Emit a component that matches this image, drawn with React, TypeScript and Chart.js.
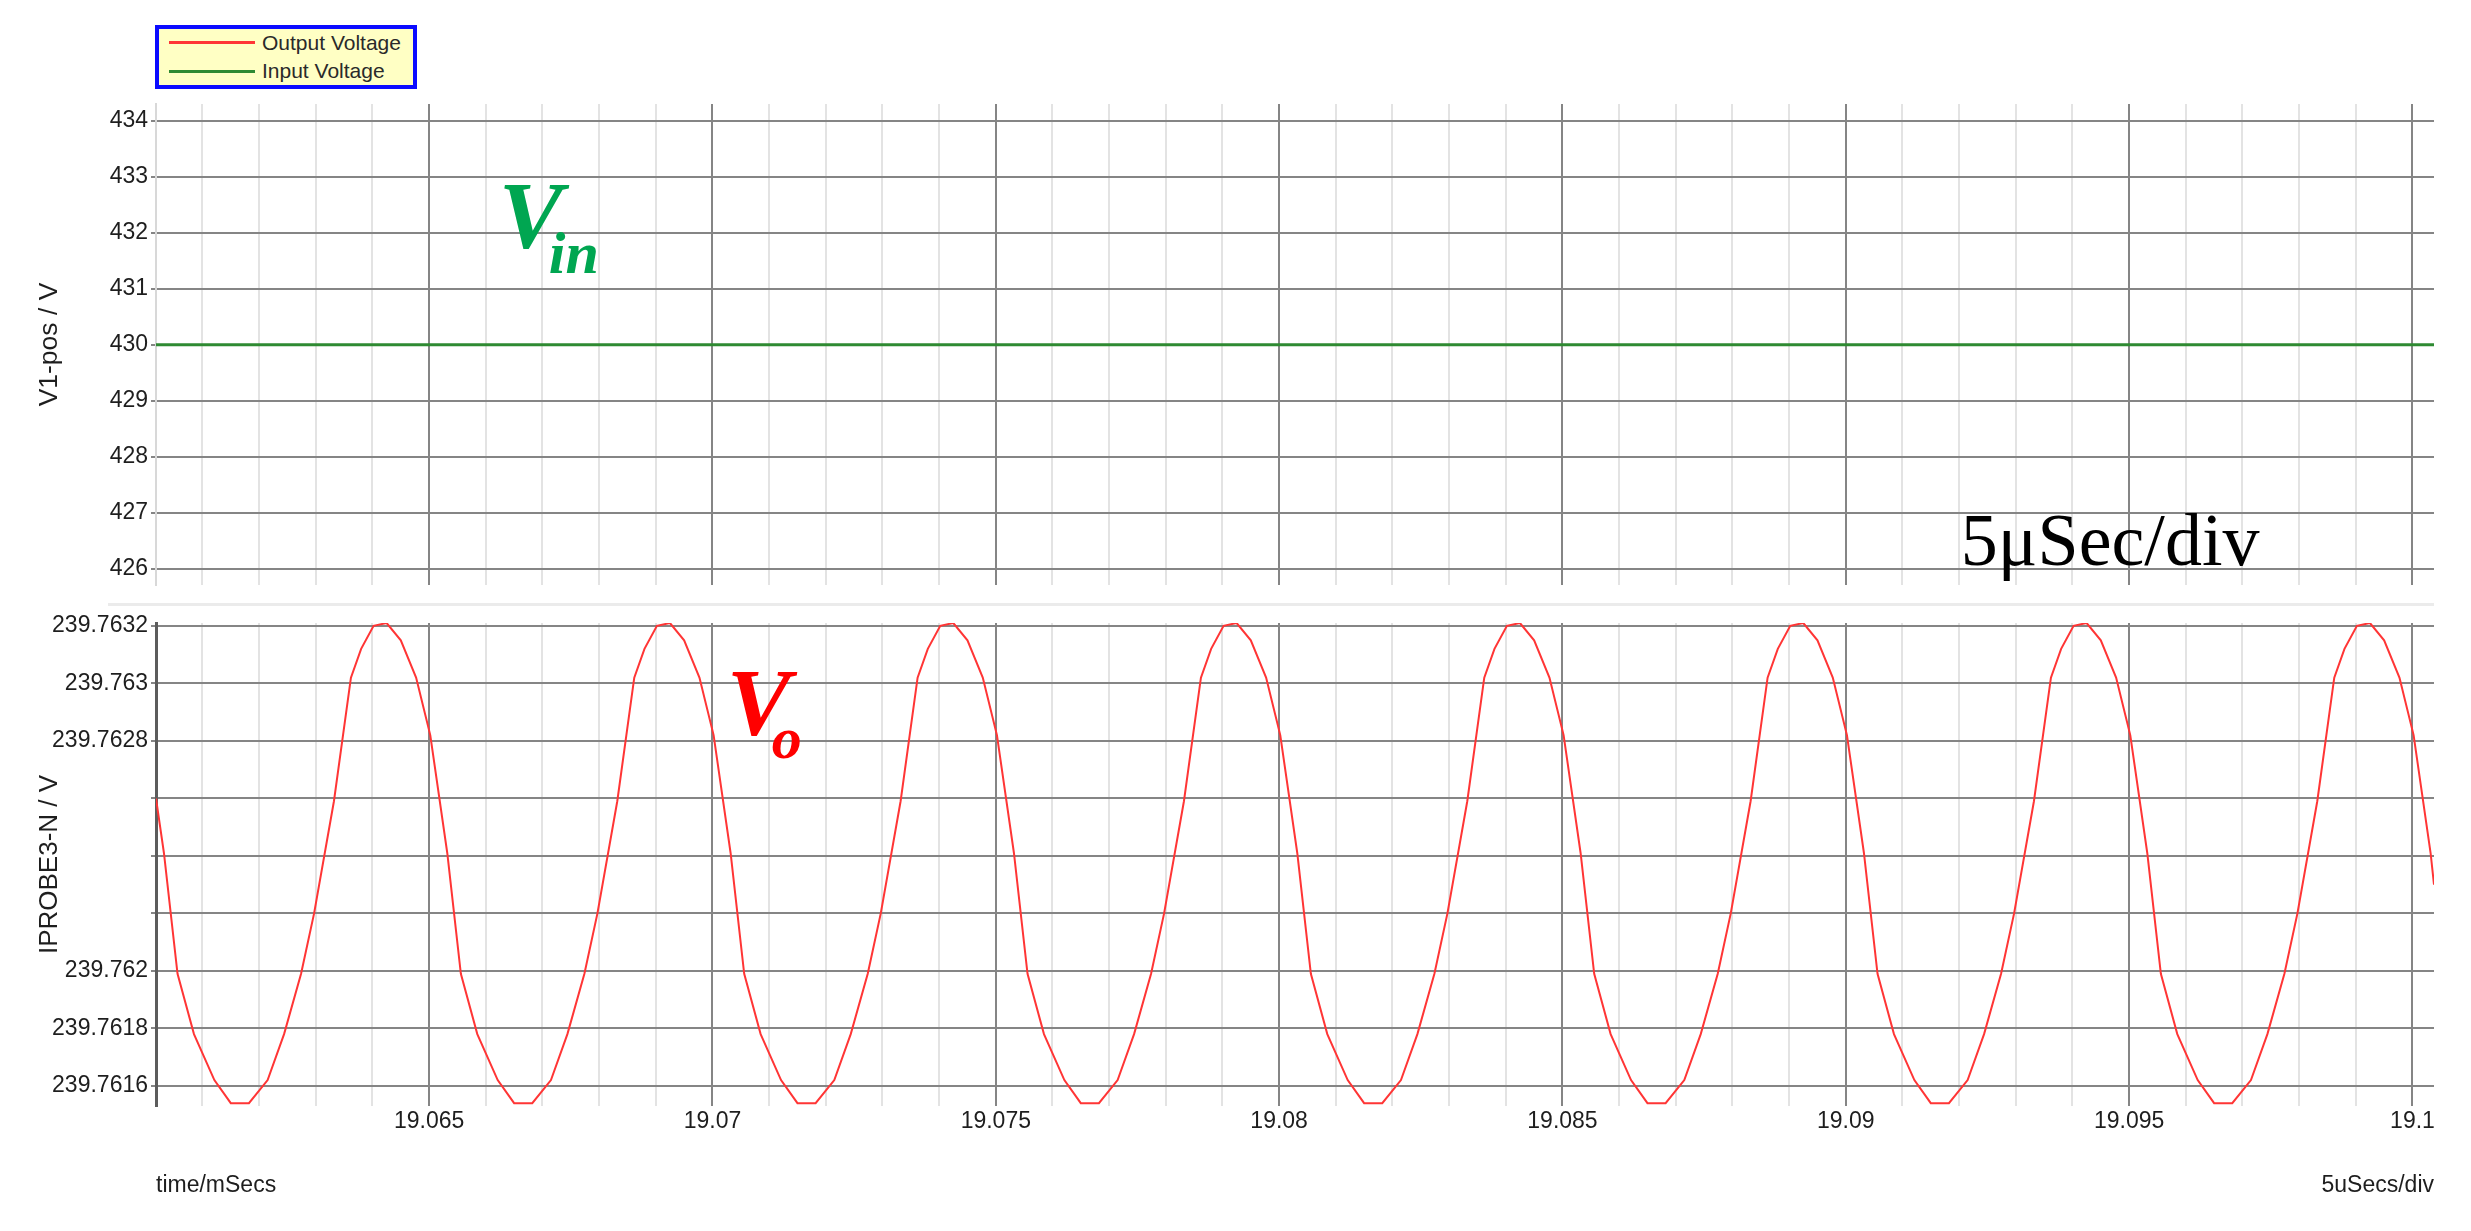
import React, { useEffect, useRef } from "react";
import { Chart, registerables } from "chart.js";

Chart.register(...registerables);

// ---------------- data ----------------
const seriesNames = ["Output Voltage", "Input Voltage"];
const seriesColors = ["#ff3535", "#2e8a32"];

const timeMin = 19.06018;
const timeMax = 19.10038;

const inputTime = [19.06018, 19.10038];
const inputVoltage = [430, 430];

const outputTime = [
  19.06018, 19.06032, 19.06056, 19.06085, 19.06121, 19.0615,
  19.06182, 19.06215, 19.06244, 19.06274, 19.06297, 19.06332, 19.06362, 19.0638, 19.06402, 19.06425, 19.0645, 19.06477, 19.06502, 19.06532, 19.06556, 19.06585, 19.06621, 19.0665,
  19.06682, 19.06715, 19.06744, 19.06774, 19.06797, 19.06832, 19.06862, 19.0688, 19.06902, 19.06925, 19.0695, 19.06977, 19.07002, 19.07032, 19.07056, 19.07085, 19.07121, 19.0715,
  19.07182, 19.07215, 19.07244, 19.07274, 19.07297, 19.07332, 19.07362, 19.0738, 19.07402, 19.07425, 19.0745, 19.07477, 19.07502, 19.07532, 19.07556, 19.07585, 19.07621, 19.0765,
  19.07682, 19.07715, 19.07744, 19.07774, 19.07797, 19.07832, 19.07862, 19.0788, 19.07902, 19.07925, 19.0795, 19.07977, 19.08002, 19.08032, 19.08056, 19.08085, 19.08121, 19.0815,
  19.08182, 19.08215, 19.08244, 19.08274, 19.08297, 19.08332, 19.08362, 19.0838, 19.08402, 19.08425, 19.0845, 19.08477, 19.08502, 19.08532, 19.08556, 19.08585, 19.08621, 19.0865,
  19.08682, 19.08715, 19.08744, 19.08774, 19.08797, 19.08832, 19.08862, 19.0888, 19.08902, 19.08925, 19.0895, 19.08977, 19.09002, 19.09032, 19.09056, 19.09085, 19.09121, 19.0915,
  19.09182, 19.09215, 19.09244, 19.09274, 19.09297, 19.09332, 19.09362, 19.0938, 19.09402, 19.09425, 19.0945, 19.09477, 19.09502, 19.09532, 19.09556, 19.09585, 19.09621, 19.0965,
  19.09682, 19.09715, 19.09744, 19.09774, 19.09797, 19.09832, 19.09862, 19.0988, 19.09902, 19.09925, 19.0995, 19.09977, 19.10002, 19.10032, 19.10038,
];

const outputVoltage = [
  239.7626, 239.76241, 239.76199, 239.76178, 239.76162, 239.76154,
  239.76154, 239.76162, 239.76178, 239.76199, 239.7622, 239.76259, 239.76302, 239.76312, 239.7632, 239.76321, 239.76315, 239.76302, 239.76282, 239.76241, 239.76199, 239.76178, 239.76162, 239.76154,
  239.76154, 239.76162, 239.76178, 239.76199, 239.7622, 239.76259, 239.76302, 239.76312, 239.7632, 239.76321, 239.76315, 239.76302, 239.76282, 239.76241, 239.76199, 239.76178, 239.76162, 239.76154,
  239.76154, 239.76162, 239.76178, 239.76199, 239.7622, 239.76259, 239.76302, 239.76312, 239.7632, 239.76321, 239.76315, 239.76302, 239.76282, 239.76241, 239.76199, 239.76178, 239.76162, 239.76154,
  239.76154, 239.76162, 239.76178, 239.76199, 239.7622, 239.76259, 239.76302, 239.76312, 239.7632, 239.76321, 239.76315, 239.76302, 239.76282, 239.76241, 239.76199, 239.76178, 239.76162, 239.76154,
  239.76154, 239.76162, 239.76178, 239.76199, 239.7622, 239.76259, 239.76302, 239.76312, 239.7632, 239.76321, 239.76315, 239.76302, 239.76282, 239.76241, 239.76199, 239.76178, 239.76162, 239.76154,
  239.76154, 239.76162, 239.76178, 239.76199, 239.7622, 239.76259, 239.76302, 239.76312, 239.7632, 239.76321, 239.76315, 239.76302, 239.76282, 239.76241, 239.76199, 239.76178, 239.76162, 239.76154,
  239.76154, 239.76162, 239.76178, 239.76199, 239.7622, 239.76259, 239.76302, 239.76312, 239.7632, 239.76321, 239.76315, 239.76302, 239.76282, 239.76241, 239.76199, 239.76178, 239.76162, 239.76154,
  239.76154, 239.76162, 239.76178, 239.76199, 239.7622, 239.76259, 239.76302, 239.76312, 239.7632, 239.76321, 239.76315, 239.76302, 239.76282, 239.76241, 239.7623,
];

const majorTimeTicks = [19.065, 19.07, 19.075, 19.08, 19.085, 19.09, 19.095, 19.1];
const majorTimeLabels = ["19.065", "19.07", "19.075", "19.08", "19.085", "19.09", "19.095", "19.1"];

const inputTicks = [426, 427, 428, 429, 430, 431, 432, 433, 434];
const inputTickLabels = ["426", "427", "428", "429", "430", "431", "432", "433", "434"];

const outputTicks = [239.7616, 239.7618, 239.762, 239.7622, 239.7624, 239.7626, 239.7628, 239.763, 239.7632];
const outputTickLabels = ["239.7616", "239.7618", "239.762", "", "", "", "239.7628", "239.763", "239.7632"];

const inputRange = [425.71, 434.3];
const outputRange = [239.76153, 239.76321];

// annotation anchors (data coordinates)
const vinNote = { x: 19.06623, y: 431.73 };
const divNoteTop = { x: 19.09203, y: 426.07 };
const voNote = { x: 19.07025, y: 239.76282 };

// ---------------- styles ----------------
const SANS = '"Liberation Sans", Arial, sans-serif';
const SERIF = '"Liberation Serif", "Times New Roman", serif';
const MAJOR = "#858585";
const MINOR = "#e3e3e3";
const TEXT = "#1e1e1e";

const nearIdx = (arr: number[], v: number, tol: number) =>
  arr.findIndex((m) => Math.abs(m - v) < tol);

const timeLabel = (v: number) => {
  const i = nearIdx(majorTimeTicks, v, 1e-7);
  return i >= 0 ? majorTimeLabels[i] : "";
};
const timeGridColor = (c: any) =>
  c.tick && nearIdx(majorTimeTicks, c.tick.value, 1e-7) >= 0 ? MAJOR : MINOR;

const xScaleBase = (showLabels: boolean) => ({
  type: "linear" as const,
  min: timeMin,
  max: timeMax,
  ticks: {
    display: showLabels,
    stepSize: 0.001,
    autoSkip: false,
    includeBounds: false,
    maxRotation: 0,
    padding: 2,
    color: TEXT,
    font: { family: SANS, size: 23 },
    callback: (v: any) => timeLabel(Number(v)),
  },
  grid: { color: timeGridColor, lineWidth: 2, drawTicks: false },
  border: { display: false },
});

const topNotes = {
  id: "topNotes",
  afterDatasetsDraw(chart: any) {
    const { ctx, scales } = chart;
    const x = scales.x;
    const y = scales.y;
    ctx.save();
    ctx.textBaseline = "alphabetic";
    ctx.textAlign = "left";
    const px = x.getPixelForValue(vinNote.x);
    const py = y.getPixelForValue(vinNote.y);
    ctx.fillStyle = "#00a651";
    ctx.font = `italic bold 96px ${SERIF}`;
    ctx.fillText("V", px, py);
    ctx.font = `italic bold 60px ${SERIF}`;
    ctx.fillText("in", px + 50, py + 25);
    ctx.fillStyle = "#000000";
    ctx.font = `74px ${SERIF}`;
    ctx.fillText("5μSec/div", x.getPixelForValue(divNoteTop.x), y.getPixelForValue(divNoteTop.y));
    ctx.restore();
  },
};

const bottomNotes = {
  id: "bottomNotes",
  afterDatasetsDraw(chart: any) {
    const { ctx, scales, chartArea } = chart;
    const x = scales.x;
    const y = scales.y;
    ctx.save();
    ctx.textBaseline = "alphabetic";
    ctx.textAlign = "left";
    const px = x.getPixelForValue(voNote.x);
    const py = y.getPixelForValue(voNote.y);
    ctx.fillStyle = "#ff0000";
    ctx.font = `italic bold 96px ${SERIF}`;
    ctx.fillText("V", px, py);
    ctx.font = `italic bold 60px ${SERIF}`;
    ctx.fillText("o", px + 45, py + 23);
    // right-hand x-axis caption, on the same row as the axis title
    ctx.fillStyle = TEXT;
    ctx.font = `23px ${SANS}`;
    ctx.textAlign = "right";
    ctx.textBaseline = "middle";
    ctx.fillText("5uSecs/div", chartArea.right, x.bottom - 32 - 13.8);
    ctx.restore();
  },
};

export default function App() {
  const topRef = useRef<HTMLCanvasElement>(null);
  const botRef = useRef<HTMLCanvasElement>(null);

  useEffect(() => {
    const top = new Chart(topRef.current as HTMLCanvasElement, {
      type: "line",
      data: {
        datasets: [
          {
            label: seriesNames[1],
            data: inputTime.map((t, i) => ({ x: t, y: inputVoltage[i] })),
            borderColor: seriesColors[1],
            borderWidth: 3,
            pointRadius: 0,
            tension: 0,
          },
        ],
      },
      options: {
        responsive: false,
        animation: false,
        events: [],
        layout: { padding: { top: 104, right: 37, bottom: 20, left: 0 } },
        plugins: { legend: { display: false }, tooltip: { enabled: false } },
        scales: {
          x: { ...xScaleBase(false), afterFit: (s: any) => { s.height = 0; } } as any,
          y: {
            type: "linear",
            min: inputRange[0],
            max: inputRange[1],
            afterFit: (s: any) => { s.width = 156; },
            ticks: {
              stepSize: 1,
              autoSkip: false,
              includeBounds: false,
              padding: 3,
              color: TEXT,
              font: { family: SANS, size: 23 },
              callback: (v: any) => {
                const i = nearIdx(inputTicks, Number(v), 1e-6);
                return i >= 0 ? inputTickLabels[i] : "";
              },
            },
            grid: { color: MAJOR, lineWidth: 2, tickLength: 5 },
            border: { color: "#d8d8d8", width: 2 },
            title: {
              display: true,
              text: "V1-pos / V",
              color: TEXT,
              font: { family: SANS, size: 26.5 },
              padding: { top: 34, bottom: 0 },
            },
          } as any,
        },
      },
      plugins: [topNotes],
    });

    const bot = new Chart(botRef.current as HTMLCanvasElement, {
      type: "line",
      data: {
        datasets: [
          {
            label: seriesNames[0],
            data: outputTime.map((t, i) => ({ x: t, y: outputVoltage[i] })),
            borderColor: seriesColors[0],
            borderWidth: 2,
            pointRadius: 0,
            tension: 0,
          },
        ],
      },
      options: {
        responsive: false,
        animation: false,
        events: [],
        layout: { padding: { top: 18, right: 37, bottom: 0, left: 0 } },
        plugins: { legend: { display: false }, tooltip: { enabled: false } },
        scales: {
          x: {
            ...xScaleBase(true),
            afterFit: (s: any) => { s.height = 125; },
            title: {
              display: true,
              text: "time/mSecs",
              align: "start",
              color: TEXT,
              font: { family: SANS, size: 23 },
              padding: { top: 0, bottom: 32 },
            },
          } as any,
          y: {
            type: "linear",
            min: outputRange[0],
            max: outputRange[1],
            afterFit: (s: any) => { s.width = 156; },
            ticks: {
              stepSize: 0.0002,
              autoSkip: false,
              includeBounds: false,
              padding: 3,
              color: TEXT,
              font: { family: SANS, size: 23 },
              callback: (v: any) => {
                const i = nearIdx(outputTicks, Number(v), 1e-8);
                return i >= 0 ? outputTickLabels[i] : "";
              },
            },
            grid: { color: MAJOR, lineWidth: 2, tickLength: 5 },
            border: { color: "#5c5c5c", width: 3 },
            title: {
              display: true,
              text: "IPROBE3-N / V",
              color: TEXT,
              font: { family: SANS, size: 26 },
              padding: { top: 34, bottom: 0 },
            },
          } as any,
        },
      },
      plugins: [bottomNotes],
    });

    return () => {
      top.destroy();
      bot.destroy();
    };
  }, []);

  const legendRows = [
    { name: seriesNames[0], color: seriesColors[0], lineTop: 11.5, textTop: 2 },
    { name: seriesNames[1], color: seriesColors[1], lineTop: 40.5, textTop: 30 },
  ];

  return (
    <div
      style={{
        position: "fixed",
        left: 0,
        top: 0,
        width: 2471,
        height: 1231,
        background: "#ffffff",
        overflow: "hidden",
      }}
    >
      <canvas ref={topRef} width={2471} height={605} style={{ position: "absolute", left: 0, top: 0 }} />
      <canvas ref={botRef} width={2471} height={626} style={{ position: "absolute", left: 0, top: 605 }} />
      <div
        style={{
          position: "absolute",
          left: 108,
          top: 603,
          width: 2326,
          height: 3,
          background: "#ebebeb",
        }}
      />
      <div
        style={{
          position: "absolute",
          left: 155,
          top: 25,
          width: 262,
          height: 64,
          boxSizing: "border-box",
          border: "4px solid #0b0bff",
          background: "#ffffc4",
          fontFamily: SANS,
        }}
      >
        {legendRows.map((r) => (
          <React.Fragment key={r.name}>
            <div
              style={{
                position: "absolute",
                left: 10,
                top: r.lineTop,
                width: 86,
                height: 3,
                background: r.color,
              }}
            />
            <div
              style={{
                position: "absolute",
                left: 103,
                top: r.textTop,
                fontSize: 21,
                lineHeight: "24px",
                color: "#2a2a2a",
                whiteSpace: "nowrap",
              }}
            >
              {r.name}
            </div>
          </React.Fragment>
        ))}
      </div>
    </div>
  );
}
